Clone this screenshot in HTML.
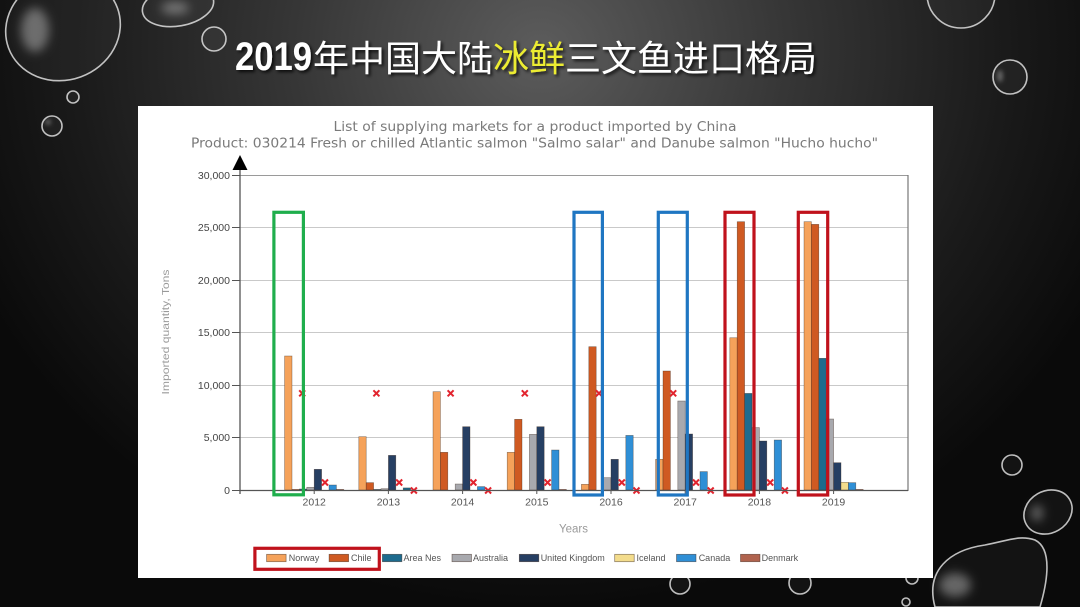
<!DOCTYPE html>
<html><head><meta charset="utf-8"><style>
html,body{margin:0;padding:0;background:#111;}
svg{display:block;}
</style></head><body>
<svg xmlns="http://www.w3.org/2000/svg" width="1080" height="607" viewBox="0 0 1080 607">
<defs>
<radialGradient id="bg" cx="540" cy="50" r="620" gradientUnits="userSpaceOnUse" gradientTransform="translate(540 50) scale(1 0.9) translate(-540 -50)">
<stop offset="0" stop-color="#5c5c5c"/>
<stop offset="0.4" stop-color="#363636"/>
<stop offset="0.75" stop-color="#1a1a1a"/>
<stop offset="1" stop-color="#0a0a0a"/>
</radialGradient>
<filter id="blur" x="-50%" y="-50%" width="200%" height="200%"><feGaussianBlur stdDeviation="5"/></filter>
<filter id="blur2" x="-50%" y="-50%" width="200%" height="200%"><feGaussianBlur stdDeviation="2"/></filter>
<filter id="sh" x="-10%" y="-30%" width="120%" height="160%"><feDropShadow dx="2" dy="2" stdDeviation="1.5" flood-color="#000" flood-opacity="0.8"/></filter>
</defs>
<rect width="1080" height="607" fill="url(#bg)"/>

<!-- droplets -->
<g fill="rgba(255,255,255,0.04)" stroke="rgba(235,235,235,0.8)" stroke-width="1.6">
<ellipse cx="63" cy="28" rx="58" ry="52" transform="rotate(-20 63 28)"/>
<ellipse cx="178" cy="6" rx="36" ry="20" transform="rotate(-10 178 6)"/>
<circle cx="214" cy="39" r="12"/>
<circle cx="73" cy="97" r="6"/>
<circle cx="52" cy="126" r="10"/>
<circle cx="961" cy="-6" r="34"/>
<circle cx="1010" cy="77" r="17"/>
<circle cx="1012" cy="465" r="10"/>
<ellipse cx="1048" cy="512" rx="25" ry="21" transform="rotate(-30 1048 512)"/>
<path d="M935 607 C925 570 950 550 985 545 C1010 540 1020 535 1035 540 C1055 550 1045 590 1040 607 Z"/>
<circle cx="906" cy="602" r="4"/>
<circle cx="680" cy="584" r="10"/>
<circle cx="800" cy="583" r="11"/>
<circle cx="912" cy="578" r="6"/>
</g>
<g fill="rgba(255,255,255,0.35)" filter="url(#blur)">
<ellipse cx="35" cy="30" rx="14" ry="22"/>
<ellipse cx="175" cy="8" rx="14" ry="6"/>
<ellipse cx="955" cy="585" rx="16" ry="12"/>
<ellipse cx="1037" cy="513" rx="6" ry="8"/>
</g>
<g fill="rgba(255,255,255,0.3)" filter="url(#blur2)">
<ellipse cx="1000" cy="76" rx="3" ry="6"/>
<circle cx="48" cy="122" r="3"/>
</g>

<!-- title -->
<g filter="url(#sh)">
<text x="235" y="70" font-family="Liberation Sans, sans-serif" font-weight="bold" font-size="40" fill="#fff" textLength="77" lengthAdjust="spacingAndGlyphs">2019</text>
<text x="313" y="71" font-family="Liberation Sans, 'Noto Sans CJK SC', sans-serif" font-size="36" fill="#fff">年中国大陆</text>
<text x="493" y="71" font-family="Liberation Sans, 'Noto Sans CJK SC', sans-serif" font-size="36" fill="#ecec30">冰鲜</text>
<text x="565" y="71" font-family="Liberation Sans, 'Noto Sans CJK SC', sans-serif" font-size="36" fill="#fff">三文鱼进口格局</text>
</g>

<!-- chart panel -->
<rect x="138" y="106" width="795" height="472" fill="#fff"/>

<text x="535" y="131" text-anchor="middle" font-family="DejaVu Sans, sans-serif" font-size="13" fill="#7a7a7a" textLength="403" lengthAdjust="spacingAndGlyphs">List of supplying markets for a product imported by China</text>
<text x="534.5" y="147.5" text-anchor="middle" font-family="DejaVu Sans, sans-serif" font-size="13" fill="#7a7a7a" textLength="687" lengthAdjust="spacingAndGlyphs">Product: 030214 Fresh or chilled Atlantic salmon "Salmo salar" and Danube salmon "Hucho hucho"</text>

<!-- grid -->
<g stroke="#c9c9c9" stroke-width="1">
<line x1="240" y1="227.5" x2="908" y2="227.5"/>
<line x1="240" y1="280.5" x2="908" y2="280.5"/>
<line x1="240" y1="332.5" x2="908" y2="332.5"/>
<line x1="240" y1="385.5" x2="908" y2="385.5"/>
<line x1="240" y1="437.5" x2="908" y2="437.5"/>
</g>
<line x1="240" y1="175.5" x2="908" y2="175.5" stroke="#9a9a9a" stroke-width="1"/>
<line x1="908" y1="175" x2="908" y2="491" stroke="#777" stroke-width="1.2"/>
<g stroke="#555" stroke-width="1">
<line x1="232" y1="175.5" x2="240" y2="175.5"/>
<line x1="232" y1="227.5" x2="240" y2="227.5"/>
<line x1="232" y1="280.5" x2="240" y2="280.5"/>
<line x1="232" y1="332.5" x2="240" y2="332.5"/>
<line x1="232" y1="385.5" x2="240" y2="385.5"/>
<line x1="232" y1="437.5" x2="240" y2="437.5"/>
<line x1="232" y1="490.5" x2="240" y2="490.5"/>
</g>
<g font-family="Liberation Sans, sans-serif" font-size="10.5" fill="#444" text-anchor="end">
<text x="230" y="179">30,000</text>
<text x="230" y="231">25,000</text>
<text x="230" y="284">20,000</text>
<text x="230" y="336">15,000</text>
<text x="230" y="389">10,000</text>
<text x="230" y="441">5,000</text>
<text x="230" y="494">0</text>
</g>
<text transform="translate(169 332) rotate(-90)" text-anchor="middle" font-family="Liberation Sans, sans-serif" font-size="10.5" fill="#9a9a9a" textLength="125" lengthAdjust="spacingAndGlyphs">Imported quantity, Tons</text>

<!-- bars -->
<g stroke="rgba(60,40,30,0.55)" stroke-width="0.6">
<!-- 2012 -->
<rect x="284.6" y="356" width="7.4" height="134" fill="#f5a25a"/>
<rect x="292" y="489.4" width="7.4" height="0.6" fill="#cf5a22"/>
<rect x="299.4" y="489" width="7.4" height="1" fill="#1d6b8e"/>
<rect x="306.8" y="487.3" width="7.4" height="2.7" fill="#a8a9ae"/>
<rect x="314.2" y="469.3" width="7.4" height="20.7" fill="#263f63"/>
<rect x="329" y="485" width="7.4" height="5" fill="#2f8fd6"/>
<rect x="336.4" y="489.4" width="7.4" height="0.6" fill="#b0634e"/>
<!-- 2013 -->
<rect x="358.8" y="436.7" width="7.4" height="53.3" fill="#f5a25a"/>
<rect x="366.2" y="482.65" width="7.4" height="7.35" fill="#cf5a22"/>
<rect x="373.6" y="489.4" width="7.4" height="0.6" fill="#1d6b8e"/>
<rect x="381" y="488.7" width="7.4" height="1.3" fill="#a8a9ae"/>
<rect x="388.4" y="455.35" width="7.4" height="34.65" fill="#263f63"/>
<rect x="403.2" y="487.9" width="7.4" height="2.1" fill="#1d6b8e"/>
<!-- 2014 -->
<rect x="433" y="391.7" width="7.4" height="98.3" fill="#f5a25a"/>
<rect x="440.4" y="452.3" width="7.4" height="37.7" fill="#cf5a22"/>
<rect x="455.2" y="484" width="7.4" height="6" fill="#a8a9ae"/>
<rect x="462.6" y="426.7" width="7.4" height="63.3" fill="#263f63"/>
<rect x="477.4" y="486.6" width="7.4" height="3.4" fill="#2f8fd6"/>
<!-- 2015 -->
<rect x="507.2" y="452.3" width="7.4" height="37.7" fill="#f5a25a"/>
<rect x="514.6" y="419.3" width="7.4" height="70.7" fill="#cf5a22"/>
<rect x="529.4" y="434.35" width="7.4" height="55.65" fill="#a8a9ae"/>
<rect x="536.8" y="426.7" width="7.4" height="63.3" fill="#263f63"/>
<rect x="551.6" y="450" width="7.4" height="40" fill="#2f8fd6"/>
<rect x="559" y="489.4" width="7.4" height="0.6" fill="#b0634e"/>
<!-- 2016 -->
<rect x="581.4" y="484.3" width="7.4" height="5.7" fill="#f5a25a"/>
<rect x="588.8" y="346.7" width="7.4" height="143.3" fill="#cf5a22"/>
<rect x="603.6" y="477.7" width="7.4" height="12.3" fill="#a8a9ae"/>
<rect x="611" y="459.3" width="7.4" height="30.7" fill="#263f63"/>
<rect x="625.8" y="435.4" width="7.4" height="54.6" fill="#2f8fd6"/>
<!-- 2017 -->
<rect x="655.6" y="459.3" width="7.4" height="30.7" fill="#f5a25a"/>
<rect x="663" y="371" width="7.4" height="119" fill="#cf5a22"/>
<rect x="677.8" y="401" width="7.4" height="89" fill="#a8a9ae"/>
<rect x="685.2" y="434" width="7.4" height="56" fill="#263f63"/>
<rect x="700" y="471.6" width="7.4" height="18.4" fill="#2f8fd6"/>
<!-- 2018 -->
<rect x="729.8" y="337.75" width="7.4" height="152.25" fill="#f5a25a"/>
<rect x="737.2" y="221.7" width="7.4" height="268.3" fill="#cf5a22"/>
<rect x="744.6" y="393.4" width="7.4" height="96.6" fill="#1d6b8e"/>
<rect x="752" y="427.6" width="7.4" height="62.4" fill="#a8a9ae"/>
<rect x="759.4" y="441" width="7.4" height="49" fill="#263f63"/>
<rect x="774.2" y="440" width="7.4" height="50" fill="#2f8fd6"/>
<!-- 2019 -->
<rect x="804" y="221.7" width="7.4" height="268.3" fill="#f5a25a"/>
<rect x="811.4" y="224.35" width="7.4" height="265.65" fill="#cf5a22"/>
<rect x="818.8" y="358.3" width="7.4" height="131.7" fill="#1d6b8e"/>
<rect x="826.2" y="419" width="7.4" height="71" fill="#a8a9ae"/>
<rect x="833.6" y="462.7" width="7.4" height="27.3" fill="#263f63"/>
<rect x="841" y="482.3" width="7.4" height="7.7" fill="#f3dc8c"/>
<rect x="848.4" y="482.65" width="7.4" height="7.35" fill="#2f8fd6"/>
<rect x="855.8" y="489.4" width="7.4" height="0.6" fill="#b0634e"/>
</g>

<!-- red x markers -->
<path stroke="#e2242e" stroke-width="2" fill="none" d="
M299.2 390.3L305.2 396.3M305.2 390.3L299.2 396.3
M373.4 390.3L379.4 396.3M379.4 390.3L373.4 396.3
M447.6 390.3L453.6 396.3M453.6 390.3L447.6 396.3
M521.8 390.3L527.8 396.3M527.8 390.3L521.8 396.3
M596 390.3L602 396.3M602 390.3L596 396.3
M670.2 390.3L676.2 396.3M676.2 390.3L670.2 396.3
M322 479.5L328 485.5M328 479.5L322 485.5
M396.2 479.5L402.2 485.5M402.2 479.5L396.2 485.5
M470.4 479.5L476.4 485.5M476.4 479.5L470.4 485.5
M544.6 479.5L550.6 485.5M550.6 479.5L544.6 485.5
M618.8 479.5L624.8 485.5M624.8 479.5L618.8 485.5
M693 479.5L699 485.5M699 479.5L693 485.5
M767.2 479.5L773.2 485.5M773.2 479.5L767.2 485.5
M410.9 487.5L416.9 493.5M416.9 487.5L410.9 493.5
M485.1 487.5L491.1 493.5M491.1 487.5L485.1 493.5
M633.5 487.5L639.5 493.5M639.5 487.5L633.5 493.5
M707.7 487.5L713.7 493.5M713.7 487.5L707.7 493.5
M781.9 487.5L787.9 493.5M787.9 487.5L781.9 493.5"/>

<!-- axes -->
<line x1="240" y1="490.5" x2="908" y2="490.5" stroke="#555" stroke-width="1.3"/>
<line x1="240" y1="166" x2="240" y2="494" stroke="#555" stroke-width="1.3"/>
<polygon points="240,155 232.5,170 247.5,170" fill="#000"/>
<g stroke="#555" stroke-width="1">
<line x1="314.2" y1="490" x2="314.2" y2="494"/>
<line x1="388.4" y1="490" x2="388.4" y2="494"/>
<line x1="462.6" y1="490" x2="462.6" y2="494"/>
<line x1="536.8" y1="490" x2="536.8" y2="494"/>
<line x1="611" y1="490" x2="611" y2="494"/>
<line x1="685.2" y1="490" x2="685.2" y2="494"/>
<line x1="759.4" y1="490" x2="759.4" y2="494"/>
<line x1="833.6" y1="490" x2="833.6" y2="494"/>
</g>
<g font-family="Liberation Sans, sans-serif" font-size="10.5" fill="#555" text-anchor="middle">
<text x="314.2" y="505.5">2012</text>
<text x="388.4" y="505.5">2013</text>
<text x="462.6" y="505.5">2014</text>
<text x="536.8" y="505.5">2015</text>
<text x="611" y="505.5">2016</text>
<text x="685.2" y="505.5">2017</text>
<text x="759.4" y="505.5">2018</text>
<text x="833.6" y="505.5">2019</text>
</g>
<text x="573.5" y="532.5" text-anchor="middle" font-family="Liberation Sans, sans-serif" font-size="11.5" fill="#9a9a9a">Years</text>

<!-- highlight boxes -->
<g fill="none" stroke-width="3.2">
<rect x="273.9" y="212.3" width="29.5" height="282.5" stroke="#1fae4c"/>
<rect x="574" y="212.3" width="28.4" height="282.7" stroke="#1f76c2"/>
<rect x="658.3" y="212.3" width="29" height="282.7" stroke="#1f76c2"/>
<rect x="725" y="212.3" width="29" height="282.7" stroke="#c0121c"/>
<rect x="798.3" y="212.3" width="29.4" height="282.7" stroke="#c0121c"/>
</g>

<!-- legend -->
<g stroke="rgba(60,40,30,0.6)" stroke-width="0.7">
<rect x="266.6" y="554.3" width="19.5" height="7.4" fill="#f5a25a"/>
<rect x="329.1" y="554.3" width="19.5" height="7.4" fill="#cf5a22"/>
<rect x="382.4" y="554.3" width="19.5" height="7.4" fill="#1d6b8e"/>
<rect x="452" y="554.3" width="19.5" height="7.4" fill="#a8a9ae"/>
<rect x="519.3" y="554.3" width="19.5" height="7.4" fill="#263f63"/>
<rect x="614.7" y="554.3" width="19.5" height="7.4" fill="#f3dc8c"/>
<rect x="676.5" y="554.3" width="19.5" height="7.4" fill="#2f8fd6"/>
<rect x="740.5" y="554.3" width="19.5" height="7.4" fill="#b0634e"/>
</g>
<g font-family="Liberation Sans, sans-serif" font-size="9" fill="#555">
<text x="288.8" y="561">Norway</text>
<text x="351" y="561">Chile</text>
<text x="403.5" y="561">Area Nes</text>
<text x="473" y="561">Australia</text>
<text x="540.7" y="561">United Kingdom</text>
<text x="636.5" y="561">Iceland</text>
<text x="698.7" y="561">Canada</text>
<text x="761.6" y="561">Denmark</text>
</g>
<rect x="254.9" y="548.3" width="124.4" height="21" fill="none" stroke="#c0121c" stroke-width="3.2"/>
</svg>
</body></html>
